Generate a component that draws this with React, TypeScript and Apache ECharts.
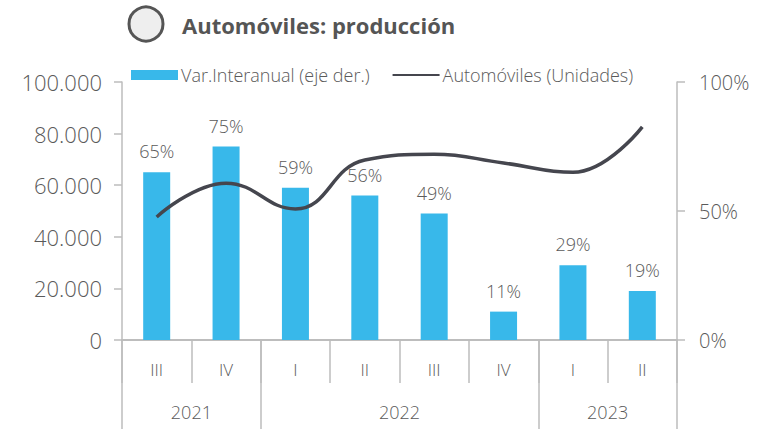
import React, { useEffect, useRef } from "react";
import * as echarts from "echarts";

const quarters = ["III", "IV", "I", "II", "III", "IV", "I", "II"];
const years = ["2021", "2022", "2023"];
const yearSpans = [2, 4, 2];
const varInteranual = [65, 75, 59, 56, 49, 11, 29, 19];
const automoviles = [47700, 60800, 50800, 69800, 72000, 68600, 65000, 82600];
const leftTicks = { min: 0, max: 100000, interval: 20000 };
const rightTicks = { min: 0, max: 100, interval: 50 };

const FONT = "'Open Sans', 'Noto Sans', sans-serif";
const GRAY_TEXT = "#5a5a5a";
const AXIS_GRAY = "#bdbdbd";

export default function App() {
  const ref = useRef<HTMLDivElement>(null);
  useEffect(() => {
    if (!ref.current) return;
    const chart = echarts.init(ref.current, undefined, { renderer: "svg" });

    // year group boundaries and centres (in category units)
    const bounds: number[] = [0];
    const centres: number[] = [];
    yearSpans.forEach((s) => {
      const start = bounds[bounds.length - 1];
      centres.push(start + s / 2);
      bounds.push(start + s);
    });

    chart.setOption({
      animation: false,
      textStyle: { fontFamily: FONT },
      title: {
        text: "Automóviles: producción",
        left: 177,
        top: 9,
        textStyle: {
          fontFamily: FONT,
          fontSize: 22,
          fontWeight: "bold",
          color: "#555555",
        },
      },
      graphic: [
        {
          type: "circle",
          shape: { cx: 146, cy: 24, r: 17 },
          style: { fill: "#eeeeee", stroke: "#555555", lineWidth: 3 },
        },
      ],
      legend: {
        top: 61,
        left: 126,
        itemWidth: 47,
        itemHeight: 10,
        itemGap: 22,
        textStyle: { fontFamily: FONT, fontSize: 18, fontWeight: 300, color: GRAY_TEXT, padding: [0, 0, 0, -2] },
        data: [
          { name: "Var.Interanual (eje der.)", icon: "rect" },
          { name: "Automóviles (Unidades)", itemStyle: { opacity: 0 } },
        ],
      },
      grid: { left: 122, right: 90, top: 82, bottom: 89, containLabel: false },
      xAxis: [
        {
          type: "category",
          data: quarters,
          position: "bottom",
          boundaryGap: true,
          axisLine: { show: true, lineStyle: { color: AXIS_GRAY, width: 2 } },
          axisTick: {
            show: true,
            interval: 0,
            length: 43,
            lineStyle: { color: AXIS_GRAY, width: 1.5 },
          },
          axisLabel: {
            interval: 0,
            margin: 21,
            fontSize: 17,
            fontWeight: 300,
            color: GRAY_TEXT,
            fontFamily: FONT,
          },
        },
        {
          // year separators (long ticks at year boundaries)
          type: "category",
          data: quarters,
          position: "bottom",
          boundaryGap: true,
          axisLine: { show: true, lineStyle: { color: AXIS_GRAY, width: 2 } },
          axisTick: {
            show: true,
            interval: (index: number) => bounds.indexOf(index) >= 0,
            length: 89,
            lineStyle: { color: AXIS_GRAY, width: 1.5 },
          },
          axisLabel: { show: false },
        },
        {
          // year labels
          type: "value",
          min: 0,
          max: quarters.length,
          interval: 1,
          position: "bottom",
          offset: 43,
          axisLine: { show: false },
          axisTick: { show: false },
          splitLine: { show: false },
          axisLabel: {
            customValues: centres,
            margin: 20,
            fontSize: 18,
            fontWeight: 300,
            color: GRAY_TEXT,
            fontFamily: FONT,
            formatter: (v: number) => {
              const i = centres.indexOf(v);
              return i >= 0 ? years[i] : "";
            },
          },
        },
      ],
      yAxis: [
        {
          type: "value",
          position: "left",
          ...leftTicks,
          axisLine: { show: true, lineStyle: { color: AXIS_GRAY, width: 1.5 } },
          axisTick: { show: true, length: 8, lineStyle: { color: AXIS_GRAY, width: 1.5 } },
          splitLine: { show: false },
          axisLabel: {
            margin: 20,
            fontSize: 22,
            fontWeight: 300,
            color: GRAY_TEXT,
            fontFamily: FONT,
            formatter: (v: number) =>
              String(Math.round(v)).replace(/\B(?=(\d{3})+(?!\d))/g, "."),
          },
        },
        {
          type: "value",
          position: "right",
          ...rightTicks,
          axisLine: { show: true, lineStyle: { color: AXIS_GRAY, width: 1.5 } },
          axisTick: { show: true, length: 8, lineStyle: { color: AXIS_GRAY, width: 1.5 } },
          splitLine: { show: false },
          axisLabel: {
            margin: 22,
            fontSize: 20,
            fontWeight: 300,
            color: GRAY_TEXT,
            fontFamily: FONT,
            formatter: "{value}%",
          },
        },
      ],
      series: [
        {
          name: "Var.Interanual (eje der.)",
          type: "bar",
          xAxisIndex: 0,
          yAxisIndex: 1,
          data: varInteranual,
          barWidth: 27,
          itemStyle: { color: "#38b8ea" },
          label: {
            show: true,
            position: "top",
            distance: 12,
            formatter: "{c}%",
            fontSize: 18,
            fontWeight: 300,
            color: GRAY_TEXT,
            fontFamily: FONT,
          },
          z: 2,
        },
        {
          name: "Automóviles (Unidades)",
          type: "line",
          xAxisIndex: 0,
          yAxisIndex: 0,
          data: automoviles,
          smooth: 0.45,
          symbol: "none",
          lineStyle: { color: "#45464e", width: 3.5 },
          itemStyle: { color: "#45464e" },
          z: 3,
        },
      ],
    });
    return () => chart.dispose();
  }, []);
  return (
    <div
      ref={ref}
      style={{ position: "fixed", left: 0, top: 0, width: 767, height: 429, background: "#ffffff" }}
    />
  );
}
